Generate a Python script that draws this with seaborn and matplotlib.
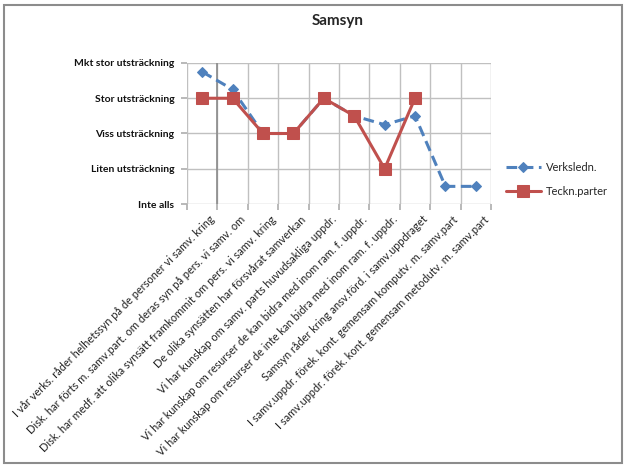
import numpy as np
import pandas as pd
import matplotlib
matplotlib.use("Agg")
import matplotlib.pyplot as plt
import matplotlib.transforms as mtrans
import seaborn as sns
from matplotlib.patches import Rectangle

categories = [
    "I vår verks. råder helhetssyn på de personer vi samv. kring",
    "Disk. har förts m. samv.part. om deras syn på pers. vi samv. om",
    "Disk. har medf. att olika synsätt framkommit om pers. vi samv. kring",
    "De olika synsätten har försvårat samverkan",
    "Vi har kunskap om samv. parts huvudsakliga uppdr.",
    "Vi har kunskap om resurser de kan bidra med inom ram. f. uppdr.",
    "Vi har kunskap om resurser de inte kan bidra med inom ram. f. uppdr.",
    "Samsyn råder kring ansv.förd. i samv.uppdraget",
    "I samv.uppdr. förek. kont. gemensam komputv. m. samv.part",
    "I samv.uppdr. förek. kont. gemensam metodutv. m. samv.part",
]
verksledn = [4.75, 4.25, 3.0, 3.0, 4.0, 3.5, 3.25, 3.5, 1.5, 1.5]
teckn_parter = [4.0, 4.0, 3.0, 3.0, 4.0, 3.5, 2.0, 4.0, np.nan, np.nan]
y_levels = [1, 2, 3, 4, 5]
y_labels = ["Inte alls", "Liten utsträckning", "Viss utsträckning",
            "Stor utsträckning", "Mkt stor utsträckning"]

sns.set_theme(style="white")
plt.rcParams["font.family"] = ["Lato", "DejaVu Sans"]

fig = plt.figure(figsize=(6.26, 4.67), dpi=100)
ax = fig.add_axes([187/626, 1 - 204/467, 304/626, 141/467])

idx = np.arange(len(categories))
df_v = pd.DataFrame({"x": idx, "y": verksledn})
df_t = pd.DataFrame({"x": idx, "y": teckn_parter})

blue = "#4F81BD"
red = "#C0504D"

sns.lineplot(data=df_v, x="x", y="y", ax=ax, color=blue, lw=2.2,
             linestyle=(0, (3.5, 1.8)), marker="D", markersize=5.5,
             markeredgecolor=blue, label="Verksledn.", zorder=3)
sns.lineplot(data=df_t, x="x", y="y", ax=ax, color=red, lw=2.2,
             marker="s", markersize=8, markeredgecolor=red,
             label="Teckn.parter", zorder=4)

ax.set_xlim(-0.5, len(categories) - 0.5)
ax.set_ylim(1, 5)
for s in ax.spines.values():
    s.set_visible(False)

ax.set_xticks(np.arange(-0.5, len(categories), 1))
ax.set_xticklabels([])
ax.set_xticks(idx, minor=True)
ax.set_xticklabels(categories, minor=True, rotation=45, ha="right",
                   rotation_mode="anchor", fontsize=7.9, color="#222222")
ax.tick_params(axis="x", which="major", length=4, color="#b0b0b0",
               direction="out", bottom=True)
ax.tick_params(axis="x", which="minor", length=0, pad=7, bottom=True)
offset = mtrans.ScaledTranslation(7/100, 0, fig.dpi_scale_trans)
for lbl in ax.xaxis.get_minorticklabels():
    lbl.set_transform(lbl.get_transform() + offset)

ax.set_yticks(y_levels)
ax.set_yticklabels(y_labels, fontsize=7.5, fontweight="bold", color="#111111")
ax.tick_params(axis="y", length=4, color="#b0b0b0", direction="out", left=True, pad=5)

ax.grid(True, which="major", axis="both", color="#c0c0c0", lw=1.0)
ax.axvline(0.5, color="#8a8a8a", lw=1.2, zorder=1)
ax.set_xlabel("")
ax.set_ylabel("")

handles, labels = ax.get_legend_handles_labels()
ax.legend(handles, labels, loc="center left", bbox_to_anchor=(1.015, 0.175),
          frameon=False, fontsize=8, handlelength=3.2, labelspacing=1.2,
          handletextpad=0.4)

fig.text(338/626, 1 - 21/467, "Samsyn", ha="center", va="center",
         fontsize=11, fontweight="bold")

fig.patches.append(Rectangle((4/626, 4/467), 618/626, 458/467,
                             transform=fig.transFigure, fill=False,
                             edgecolor="#8c8c8c", lw=1.5))

fig.savefig("out.png", dpi=100)
